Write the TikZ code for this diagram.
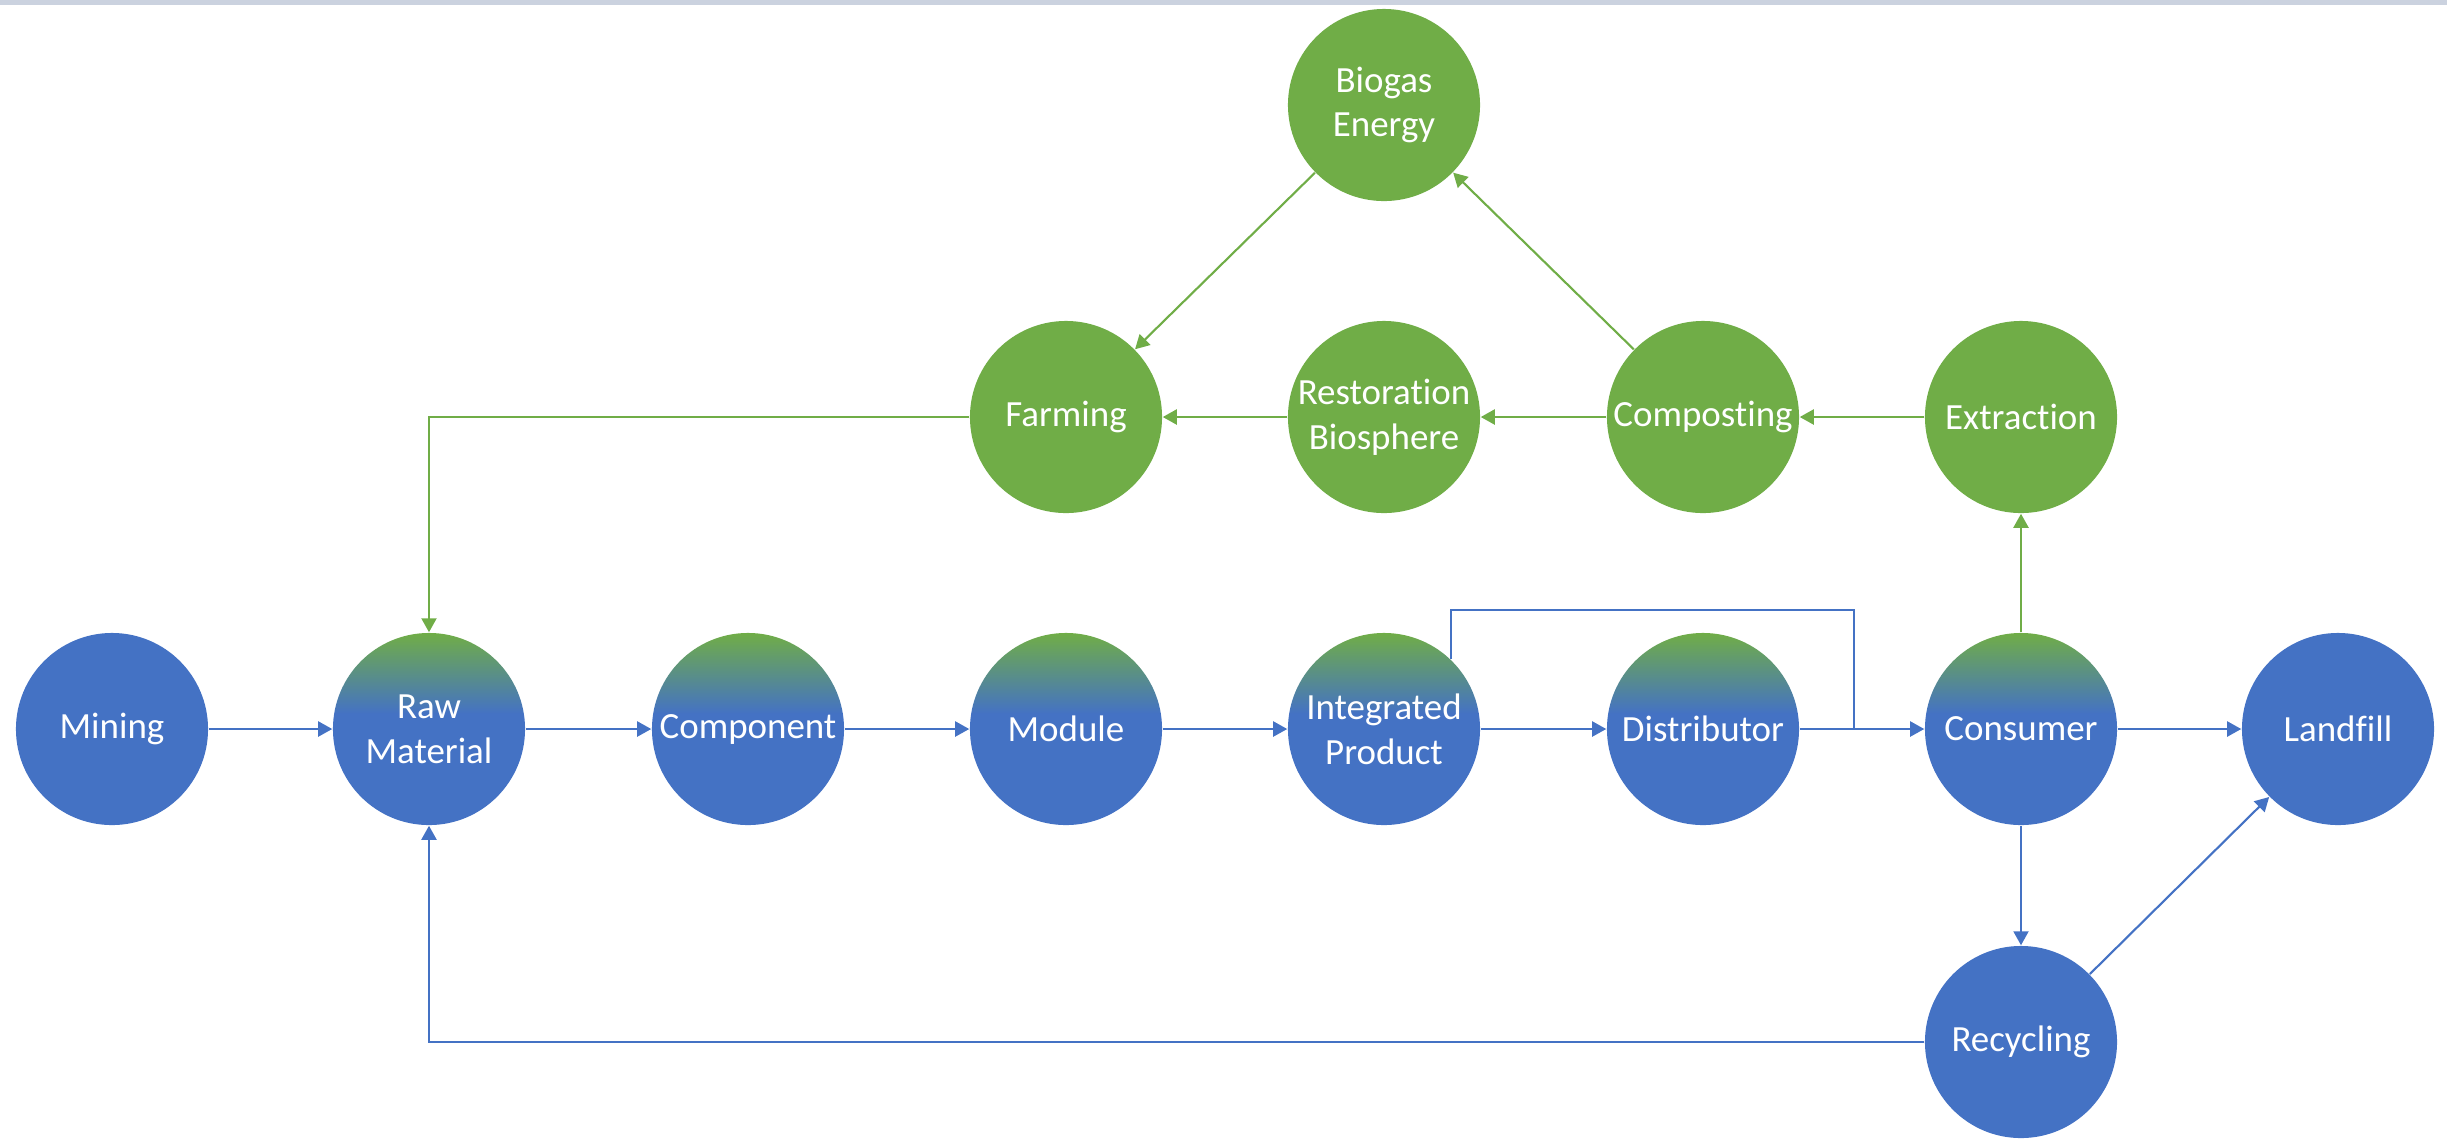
\documentclass[tikz,border=0pt]{standalone}
\usepackage{fontspec}
\setmainfont{Carlito}[Ligatures={NoCommon,NoContextual,NoRare}]
\usetikzlibrary{arrows.meta}
\definecolor{cblue}{HTML}{4472C4}
\definecolor{cgreen}{HTML}{70AD47}
\definecolor{band}{HTML}{CBD2DF}
\pgfdeclareverticalshading{gbshade}{100bp}{color(0bp)=(cblue); color(25bp)=(cblue); color(54bp)=(cblue); color(75bp)=(cgreen); color(100bp)=(cgreen)}
\begin{document}
\begin{tikzpicture}[x=0.01cm,y=-0.01cm,
  every node/.style={font=\fontsize{10.5}{12.7}\selectfont, text=white, align=center},
  bc/.style={circle, fill=cblue, minimum size=1.92cm, inner sep=0pt},
  gc/.style={circle, fill=cgreen, minimum size=1.92cm, inner sep=0pt},
  mc/.style={circle, shading=gbshade, minimum size=1.92cm, inner sep=0pt},
  barr/.style={draw=cblue, line width=0.6pt, -{Triangle[length=0.14cm,width=0.15cm]}},
  garr/.style={draw=cgreen, line width=0.6pt, -{Triangle[length=0.14cm,width=0.15cm]}},
  bln/.style={draw=cblue, line width=0.6pt},
]
\useasboundingbox (0,0) rectangle (2447,1138);
\fill[band] (0,0) rectangle (2447,5);
% main row
\node[bc] (mining) at (112,729) {Mining};
\node[mc] (raw) at (429,729) {Raw\\Material};
\node[mc] (comp) at (748,729) {Component};
\node[mc] (mod) at (1066,729) {Module};
\node[mc] (int) at (1384,729) {Integrated\\Product};
\node[mc] (dist) at (1703,729) {Distributor};
\node[mc] (cons) at (2021,729) {Consumer};
\node[bc] (land) at (2338,729) {Landfill};
\node[bc] (rec) at (2021,1042) {Recycling};
% biological cycle
\node[gc] (farm) at (1066,417) {Farming};
\node[gc] (rest) at (1384,417) {Restoration\\Biosphere};
\node[gc] (compo) at (1703,417) {Composting};
\node[gc] (extr) at (2021,417) {Extraction};
\node[gc] (bio) at (1384,105) {Biogas\\Energy};
% blue connectors
\draw[barr] (mining) -- (raw);
\draw[barr] (raw) -- (comp);
\draw[barr] (comp) -- (mod);
\draw[barr] (mod) -- (int);
\draw[barr] (int) -- (dist);
\draw[barr] (dist) -- (cons);
\draw[barr] (cons) -- (land);
\draw[barr] (cons) -- (rec);
\draw[barr] (rec) -- (land);
\draw[barr] (rec.west) -| (raw.south);
\coordinate (loopc) at (1854,610);
\draw[bln] (int.46) |- (loopc) -- (loopc |- dist.east);
% green connectors
\draw[garr] (cons) -- (extr);
\draw[garr] (extr) -- (compo);
\draw[garr] (compo) -- (rest);
\draw[garr] (rest) -- (farm);
\draw[garr] (compo) -- (bio);
\draw[garr] (bio) -- (farm);
\draw[garr] (farm.west) -| (raw.north);
\end{tikzpicture}
\end{document}
